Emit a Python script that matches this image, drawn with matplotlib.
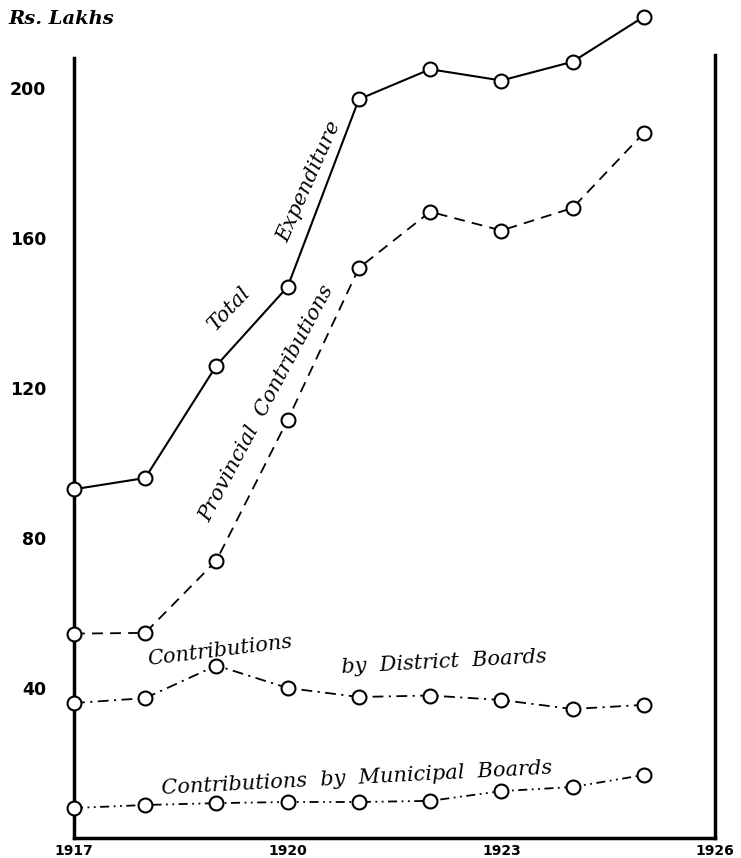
"""
Expenditure on education, 1917-1925: total, provincial, district and
municipal contributions (Rs. Lakhs).
"""
import matplotlib
matplotlib.use("Agg")
import matplotlib.pyplot as plt

# Data ------------------------------------------------------------------------

years = [1917, 1918, 1919, 1920, 1921, 1922, 1923, 1924, 1925]
total_expenditure = [93, 96, 126, 147, 197, 205, 202, 207, 219]
provincial = [54.5, 54.7, 74, 111.5, 152, 167, 162, 168, 188]
district_boards = [36, 37.3, 46, 40, 37.6, 38, 36.8, 34.4, 35.5]
municipal_boards = [8, 8.8, 9.3, 9.6, 9.6, 9.9, 12.5, 13.6, 16.8]

y_ticks = [40, 80, 120, 160, 200]
x_ticks = [1917, 1920, 1923, 1926]

# Plot ------------------------------------------------------------------------

fig = plt.figure(figsize=(7.41, 8.58), dpi=100)
ax = fig.add_axes([74 / 741, 20 / 858, 641 / 741, 828 / 858])
ax.set_xlim(1917, 1926)
ax.set_ylim(0, 220.8)

marker_kw = dict(marker="o", ms=10, mfc="white", mec="black", mew=1.5,
                 color="black", clip_on=False, zorder=5)
ax.plot(years, total_expenditure, ls="-", lw=1.5, **marker_kw)
ax.plot(years, provincial, ls=(0, (6, 4)), lw=1.3, **marker_kw)
ax.plot(years, district_boards, ls=(0, (6, 3, 1.2, 3)), lw=1.3, **marker_kw)
ax.plot(years, municipal_boards, ls=(0, (5, 2.5, 1, 2.5, 1, 2.5)), lw=1.3,
        **marker_kw)

# axes frame: left, right and bottom only
for side in ["left", "right", "bottom"]:
    ax.spines[side].set_linewidth(2.5)
ax.spines["top"].set_visible(False)
ax.spines["left"].set_bounds(0, 208)
ax.spines["right"].set_bounds(0, 208.8)

ax.set_yticks(y_ticks)
ax.set_yticklabels([str(v) for v in y_ticks], fontsize=12.5, fontweight="bold",
                   family="DejaVu Sans")
ax.set_xticks(x_ticks)
ax.set_xticklabels([str(v) for v in x_ticks], fontsize=10, fontweight="bold",
                   family="DejaVu Sans")
ax.tick_params(axis="y", length=0, pad=20)
ax.tick_params(axis="x", length=0, pad=4)

# Labels along the curves -----------------------------------------------------

lab = dict(family="DejaVu Serif", style="italic", fontsize=15,
           ha="center", va="center", rotation_mode="anchor")
ax.text(1919.17, 141, "Total", rotation=47, **lab)
ax.text(1920.3, 175, "Expenditure", rotation=66, **lab)
ax.text(1919.7, 116, "Provincial  Contributions", rotation=62, **lab)
ax.text(1919.05, 50, "Contributions", rotation=7, **lab)
ax.text(1922.2, 47, "by  District  Boards", rotation=3, **lab)
ax.text(1920.97, 16, "Contributions  by  Municipal  Boards", rotation=3,
        **lab)

fig.text(8 / 741, 1 - 19 / 858, "Rs. Lakhs", family="DejaVu Serif",
         style="italic", fontweight="bold", fontsize=14, ha="left",
         va="center")

fig.savefig("out.png", dpi=100)
